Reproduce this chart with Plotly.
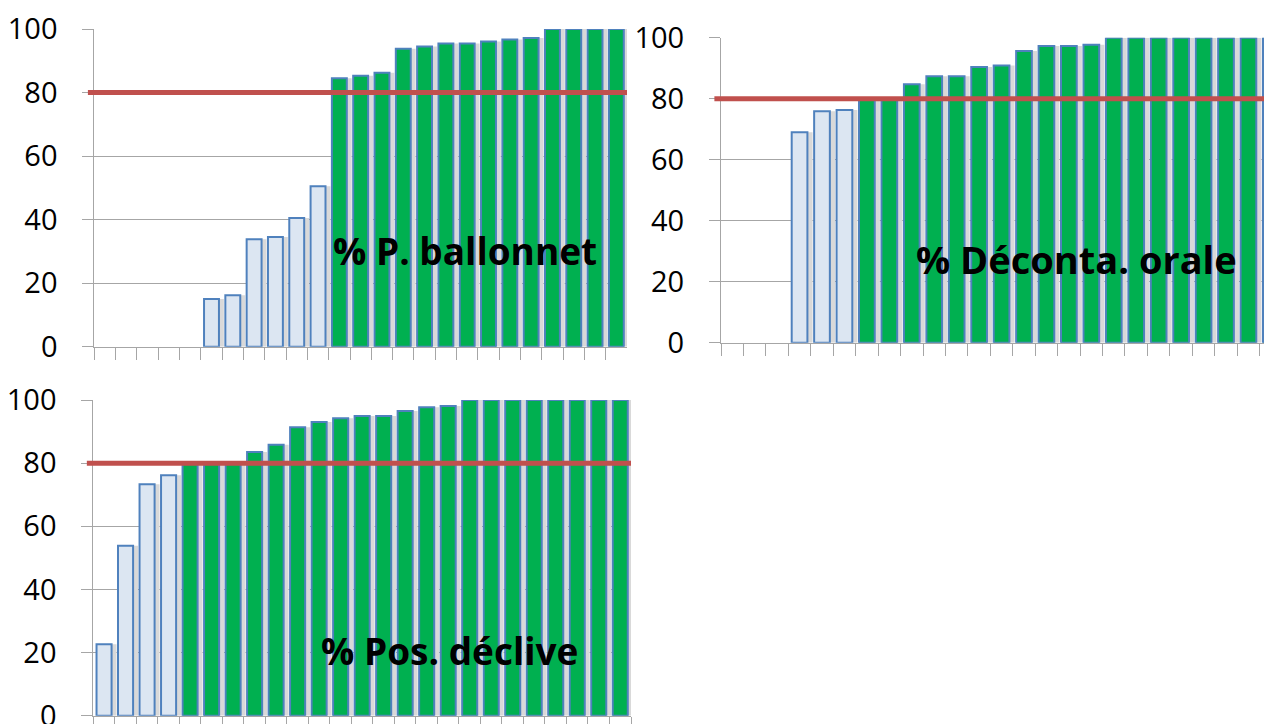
import plotly.graph_objects as go

categories = [str(i) for i in range(1, 26)]

ballonnet = [None, None, None, None, None,
             15.0, 16.2, 33.8, 34.5, 40.5, 50.5,
             84.5, 85.3, 86.2, 93.8, 94.5, 95.4, 95.4, 96.1, 96.7, 97.2,
             100, 100, 100, 100]

deconta = [None, None, None,
           69.0, 75.9, 76.3,
           80.0, 80.0, 84.7, 87.4, 87.4, 90.4, 90.9, 95.6, 97.3, 97.3, 97.7,
           100, 100, 100, 100, 100, 100, 100, 100]

declive = [22.6, 53.8, 73.3, 76.2,
           80.0, 80.0, 80.0, 83.5, 85.8, 91.4, 93.0, 94.2, 94.9, 94.9, 96.5, 97.7, 98.1,
           100, 100, 100, 100, 100, 100, 100, 100]

threshold = 80
titles = ["% P. ballonnet", "% Déconta. orale", "% Pos. déclive"]
y_ticks = [0, 20, 40, 60, 80, 100]

# the page body has an 8px margin, so the figure is drawn 8px in from the window edge
OFF = 8
W, H = 1272 - OFF, 724 - OFF
GREEN = "#00B050"
LIGHT = "#DCE6F2"
EDGE = "#4F81BD"
RED = "#C0504D"
GRID = "#A6A6A6"

# panel geometry in window pixels
panels = [
    dict(series=ballonnet, x0=94.3, x1=627.0, y0=346.7, y1=29.0, xr=[-0.5, 24.5],
         tx=464.5, ty=252.3, fs=37),
    dict(series=deconta, x0=721.0, x1=1272.0, y0=342.7, y1=37.7, xr=[-0.5, 24.05],
         tx=1076.5, ty=260.5, fs=38),
    dict(series=declive, x0=93.3, x1=631.0, y0=715.7, y1=400.0, xr=[-0.5, 24.5],
         tx=449.0, ty=652.3, fs=37),
]


def px_x(v):
    return min(max((v - OFF) / W, 0.0), 1.0)


def px_y(v):
    return min(max((H - (v - OFF)) / H, 0.0), 1.0)


fig = go.Figure()
layout = dict(
    width=W, height=H, margin=dict(l=0, r=0, t=0, b=0, autoexpand=False),
    paper_bgcolor="white", plot_bgcolor="white",
    showlegend=False, barmode="overlay",
    font=dict(family="Open Sans", color="#000000"),
    shapes=[], annotations=[],
)

for i, p in enumerate(panels):
    n = "" if i == 0 else str(i + 1)
    xa, ya = "x" + n, "y" + n
    vals = p["series"]
    colors = [GREEN if (v is not None and v >= threshold) else LIGHT for v in vals]
    # soft shadow behind the bars
    fig.add_trace(go.Bar(
        x=categories, y=vals, xaxis=xa, yaxis=ya,
        marker=dict(color="#D9D9D9", line=dict(width=0)),
        offset=-0.28, width=0.86, hoverinfo="skip",
    ))
    fig.add_trace(go.Bar(
        x=categories, y=vals, xaxis=xa, yaxis=ya,
        marker=dict(color=colors, line=dict(color=EDGE, width=2)),
        offset=-0.35, width=0.7,
    ))
    xd = [px_x(p["x0"]), px_x(p["x1"])]
    yd = [px_y(p["y0"]), px_y(p["y1"])]
    layout["xaxis" + n] = dict(
        domain=xd, anchor=ya, type="category", range=p["xr"], automargin=False,
        tickson="boundaries", ticks="outside", ticklen=12, tickcolor=GRID, tickwidth=1,
        showticklabels=False, showline=True, linecolor=GRID, linewidth=1,
        showgrid=False, zeroline=False, fixedrange=True,
    )
    layout["yaxis" + n] = dict(
        domain=yd, anchor=xa, range=[0, 100], tickvals=y_ticks, automargin=False,
        ticks="outside", ticklen=11, tickcolor=GRID, tickwidth=1,
        showgrid=True, gridcolor=GRID, gridwidth=1,
        showline=True, linecolor=GRID, linewidth=1, zeroline=False,
        tickfont=dict(family="Open Sans", size=29, color="#000000"),
        ticklabelstandoff=19, ticklabeloverflow="allow", fixedrange=True,
    )
    layout["shapes"].append(dict(
        type="line", xref=xa + " domain", yref=ya,
        x0=-0.012, x1=1.0, y0=threshold, y1=threshold,
        line=dict(color=RED, width=5), layer="above",
    ))
    layout["annotations"].append(dict(
        text="<b>" + titles[i] + "</b>", xref="paper", yref="paper",
        x=px_x(p["tx"]), y=px_y(p["ty"] - 1.5), xanchor="center", yanchor="middle",
        showarrow=False, font=dict(family="Open Sans", size=p["fs"], color="#000000"),
    ))

fig.update_layout(**layout)
fig.write_html("out.html")
